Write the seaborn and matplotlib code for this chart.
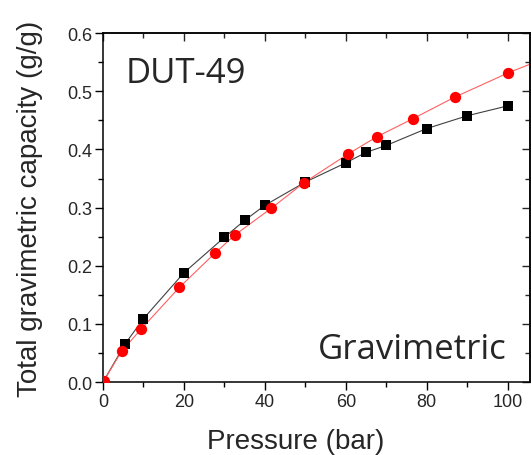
import numpy as np
import pandas as pd
import matplotlib
matplotlib.use('Agg')
import matplotlib.pyplot as plt
import seaborn as sns
from matplotlib.ticker import MultipleLocator

# %%
# Values (pressure in bar, uptake in g/g)
black_x = [0, 5.5, 10, 20, 30, 35, 40, 50, 60, 65, 70, 80, 90, 100]
black_y = [0.0, 0.066, 0.109, 0.188, 0.249, 0.278, 0.304, 0.344, 0.377, 0.395, 0.407, 0.436, 0.458, 0.475]

red_x = [0.2, 4.6, 9.4, 18.9, 27.7, 32.6, 41.6, 49.7, 60.5, 67.7, 76.6, 86.9, 100.2]
red_y = [0.002, 0.053, 0.091, 0.163, 0.222, 0.253, 0.299, 0.343, 0.392, 0.422, 0.453, 0.490, 0.532]

# red guide line runs on past the last point to the frame edge
red_line_x = red_x + [106]
red_line_y = red_y + [0.548]

x_ticks = [0, 20, 40, 60, 80, 100]
y_ticks = [0.0, 0.1, 0.2, 0.3, 0.4, 0.5, 0.6]

# %%
sns.set_theme(style='ticks')
plt.rcParams['font.family'] = ['Liberation Sans', 'DejaVu Sans']

fig = plt.figure(figsize=(5.31, 4.56), dpi=100)
ax = fig.add_axes([0.194, 0.160, 0.804, 0.765])

black = pd.DataFrame({'p': black_x, 'q': black_y})
red = pd.DataFrame({'p': red_x, 'q': red_y})
red_line = pd.DataFrame({'p': red_line_x, 'q': red_line_y})

sns.lineplot(data=black, x='p', y='q', sort=False, estimator=None, color='#404040', linewidth=0.8, ax=ax)
sns.scatterplot(data=black.iloc[1:], x='p', y='q', marker='s', s=52, color='black', linewidth=0, ax=ax, zorder=3)
sns.lineplot(data=red_line, x='p', y='q', sort=False, estimator=None, color='#ff6060', linewidth=0.8, ax=ax)
sns.scatterplot(data=red, x='p', y='q', marker='o', s=66, color='#ff0000', linewidth=0, ax=ax, zorder=4)

ax.set_xlim(0, 105.5)
ax.set_ylim(0, 0.6)
ax.set_xticks(x_ticks)
ax.set_yticks(y_ticks)
ax.set_yticklabels(['{:.1f}'.format(v) for v in y_ticks])
ax.xaxis.set_minor_locator(MultipleLocator(10))
ax.yaxis.set_minor_locator(MultipleLocator(0.05))
ax.tick_params(which='major', direction='out', length=6, width=1, labelsize=13, pad=2, color='black')
ax.tick_params(which='minor', direction='out', length=3.5, width=1, color='black')

for side in ['left', 'bottom', 'top', 'right']:
    ax.spines[side].set_visible(True)
    ax.spines[side].set_linewidth(1.1)
    ax.spines[side].set_color('black')

# top and right frame carry inward ticks without labels
top = ax.secondary_xaxis('top')
top.set_xticks(x_ticks)
top.xaxis.set_minor_locator(MultipleLocator(10))
top.tick_params(which='both', direction='in', labeltop=False, width=1)
top.tick_params(which='major', length=6)
top.tick_params(which='minor', length=3.5)
right = ax.secondary_yaxis('right')
right.set_yticks(y_ticks)
right.yaxis.set_minor_locator(MultipleLocator(0.05))
right.tick_params(which='both', direction='in', labelright=False, width=1)
right.tick_params(which='major', length=6)
right.tick_params(which='minor', length=3.5)

ax.set_xlabel('Pressure (bar)', fontsize=20, labelpad=13)
ax.xaxis.label.set_x(0.452)
ax.set_ylabel('Total gravimetric capacity (g/g)', fontsize=20, labelpad=17)

ax.text(0.052, 0.860, 'DUT-49', transform=ax.transAxes, fontsize=25,
        family=['Open Sans', 'DejaVu Sans'], ha='left', va='baseline')
ax.text(0.945, 0.068, 'Gravimetric', transform=ax.transAxes, fontsize=25,
        family=['Open Sans', 'DejaVu Sans'], ha='right', va='baseline')

fig.savefig('out.png', dpi=100)
